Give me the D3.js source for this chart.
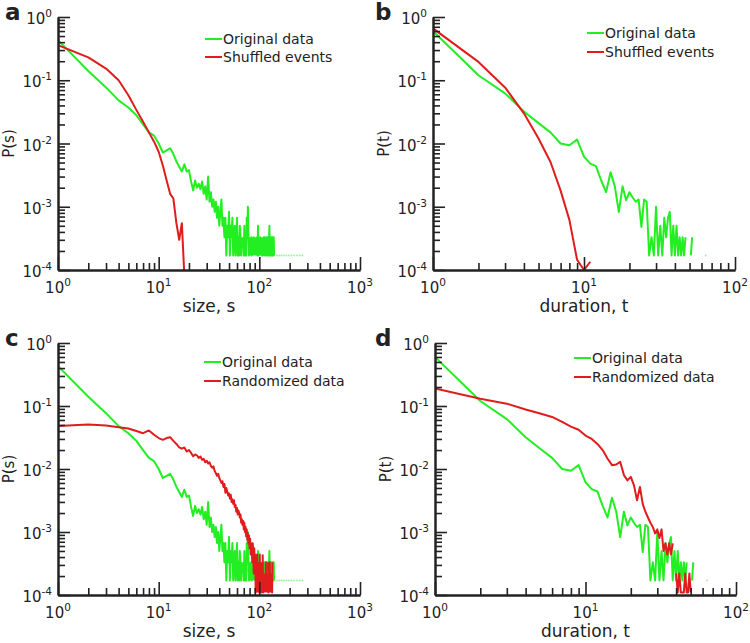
<!DOCTYPE html>
<html><head><meta charset="utf-8">
<script src="https://cdn.jsdelivr.net/npm/d3@7"></script>
<style>
body{margin:0;background:#fff}
text{font-family:"DejaVu Sans",sans-serif;fill:#222}
</style>
</head><body>
<svg id="chart" width="750" height="643"></svg>
<script>
// ---------- DATA ----------
const sizeOriginal = [
 [1,0.43],[2,0.14],[3,0.077],[4,0.048],[5,0.037],[6,0.028],[7,0.020],[8,0.0150],[9,0.0133],[10,0.0100],
 [11,0.0072],[12,0.0078],[13,0.0084],[14,0.0068],[15,0.0052],[16,0.0043],[17,0.0036],[18,0.0047],[19,0.0036],[20,0.0038],
 [21,0.0025],[22,0.0018],[23,0.0026],[24,0.0020],[25,0.0023],[26,0.0019],[27,0.0025],[28,0.0016],[29,0.0021],[30,0.0013],
 [31,0.0030],[32,0.0012],[33,0.0017],[34,0.0010],[35,0.0013],[36,8.3e-4],[37,1.2e-3],[38,6.7e-4],[39,1.0e-3],[40,5.0e-4],
 [41,8.3e-4],[42,1.3e-3],[43,5.0e-4],[44,6.7e-4],[45,3.3e-4],[46,6.7e-4],[47,1.7e-4],[48,5.0e-4],[49,3.3e-4],[50,8.3e-4],
 [51,1.7e-4],[52,5.0e-4],[53,3.3e-4],[54,6.7e-4],[55,1.7e-4],[56,3.3e-4],[57,5.0e-4],[58,1.7e-4],[59,3.3e-4],[60,6.7e-4],
 [61,1.7e-4],[62,3.3e-4],[63,1.7e-4],[64,5.0e-4],[65,3.3e-4],[66,1.7e-4],[67,3.3e-4],[68,0],[69,3.3e-4],[70,1.7e-4],
 [71,5.0e-4],[72,1.7e-4],[73,3.3e-4],[74,1.7e-4],[75,6.7e-4],[76,3.3e-4],[77,1.0e-3],[78,3.3e-4],[79,1.7e-4],[80,3.3e-4],
 [81,0],[82,1.7e-4],[83,3.3e-4],[84,1.7e-4],[85,3.3e-4],[86,0],[87,1.7e-4],[88,3.3e-4],[89,1.7e-4],[90,0],
 [91,3.3e-4],[92,1.7e-4],[93,0],[94,1.7e-4],[95,3.3e-4],[96,1.7e-4],[97,5.0e-4],[98,1.7e-4],[99,3.3e-4],[100,0],
 [101,1.7e-4],[102,3.3e-4],[103,1.7e-4],[104,0],[105,3.3e-4],[106,1.7e-4],[107,1.7e-4],[108,3.3e-4],[109,0],[110,1.7e-4],
 [111,3.3e-4],[112,1.7e-4],[113,3.3e-4],[114,1.7e-4],[115,0],[116,3.3e-4],[117,1.7e-4],[118,3.3e-4],[119,1.7e-4],[120,3.3e-4],
 [121,1.7e-4],[122,0],[123,3.3e-4],[124,1.7e-4],[125,3.3e-4],[126,5.0e-4],[127,1.7e-4],[128,3.3e-4],[129,1.7e-4],[130,3.3e-4],
 [131,1.7e-4],[132,1.7e-4],[133,3.3e-4],[134,1.7e-4],[135,1.7e-4],[136,3.3e-4],[137,1.7e-4],[138,1.7e-4],[139,3.3e-4],[140,1.7e-4],
 [141,0],[150,1.7e-4],[151,0],[158,1.7e-4],[159,0],[166,1.7e-4],[167,0],[175,1.7e-4],[176,0],[185,1.7e-4],[186,0],
 [196,1.7e-4],[197,0],[208,1.7e-4],[209,0],[221,1.7e-4],[222,0],[236,1.7e-4],[237,0],[252,1.7e-4],[253,0],[268,1.7e-4]
];
const sizeShuffled = [
 [1,0.36],[2,0.23],[3,0.153],[4,0.100],[5,0.058],[6,0.034],[7,0.022],[8,0.0150],[9,0.0107],[10,0.0074],
 [11,0.0045],[12,0.0026],[13,0.0016],[14,0.00135],[15,0.00055],[16,0.00030],[17,0.00055],[18,0.00008]
];
const sizeRandomized = [
 [1,0.048],[2,0.051],[3,0.049],[4,0.046],[5,0.044],[6,0.040],[7,0.037],[8,0.041],[9,0.035],[10,0.031],
 [11,0.029],[12,0.031],[13,0.032],[14,0.028],[15,0.025],[16,0.022],[17,0.021],[18,0.022],[19,0.019],[20,0.020],
 [21,0.018],[22,0.016],[23,0.017],[24,0.0165],[25,0.015],[26,0.0158],[27,0.014],[28,0.0145],[29,0.0128],[30,0.0135],
 [31,0.0122],[32,0.0128],[33,0.0112],[34,0.0105],[35,0.0110],[36,0.0093],[37,0.0086],[38,0.0078],[39,0.0084],[40,0.0072],
 [41,0.0066],[42,0.0060],[43,0.0064],[44,0.0052],[45,0.0058],[46,0.0042],[47,0.0050],[48,0.0044],[49,0.0038],[50,0.0041],
 [51,0.0034],[52,0.0039],[53,0.0030],[54,0.0033],[55,0.0028],[56,0.0032],[57,0.0025],[58,0.0027],[59,0.0021],[60,0.0024],
 [61,0.0019],[62,0.0022],[63,0.0020],[64,0.0017],[65,0.0019],[66,0.0014],[67,0.0016],[68,0.0013],[69,0.0015],[70,0.0011],
 [71,0.0014],[72,0.0010],[73,0.0012],[74,0.00085],[75,0.0011],[76,0.00075],[77,0.00095],[78,0.00065],[79,0.00088],[80,0.00055],
 [81,0.00078],[82,0.00044],[83,0.00066],[84,0.00055],[85,0.00033],[86,0.00066],[87,0.00044],[88,0.00022],[89,0.00055],[90,0.00033],
 [91,0.00044],[92,0.00011],[93,0.00033],[94,0.00022],[95,0.00044],[96,0.00011],[97,0],[98,0.00033],[99,0.00022],[100,0.00011],
 [101,0.00044],[102,0.00011],[103,0],[104,0.00022],[105,0.00011],[106,0.00033],[107,0],[108,0.00044],[109,0.00011],[110,0.00022],
 [111,0],[112,0.00011],[113,0.00022],[114,0],[115,0.00011],[116,0.00033],[117,0.00011],[118,0],[119,0.00022],[120,0.00011],
 [121,0],[122,0.00033],[123,0.00011],[124,0.00022],[125,0],[126,0.00011],[127,0.00033],[128,0.00011],[129,0],[130,0.00022],
 [131,0.00011],[132,0],[133,0.00022],[134,0.00011],[135,0.00033]
];
const durationOriginal = [
 [1,0.60],[2,0.12],[3,0.062],[4,0.032],[5,0.021],[6,0.015],[7,0.0100],[8,0.0094],[9,0.0115],[10,0.0062],
 [11,0.0048],[12,0.0044],[13,0.0026],[14,0.0017],[15,0.0035],[16,0.0021],[17,0.00083],[18,0.0021],[19,0.00127],[20,0.0017],
 [21,0.0014],[22,0.0012],[23,0.0013],[24,0.00048],[25,0.0013],[26,0.0012],[27,1.7e-4],[28,3.3e-4],[29,1.7e-4],[30,0.0010],
 [31,1.7e-4],[32,5.0e-4],[33,1.7e-4],[34,6.7e-4],[35,3.3e-4],[36,6.7e-4],[37,8.3e-4],[38,1.7e-4],[39,5.0e-4],[40,1.7e-4],
 [41,5.0e-4],[42,1.7e-4],[43,3.3e-4],[44,1.7e-4],[45,3.3e-4],[46,1.7e-4],[47,3.3e-4],[48,0],[51,1.7e-4],[52,3.3e-4],
 [53,0],[64,1.7e-4],[65,0]
];
const durationShuffled = [
 [1,0.66],[2,0.195],[3,0.077],[4,0.030],[5,0.012],[6,0.0051],[7,0.0018],[8,0.00062],[9,1.45e-4],[10,1.0e-4],[11,1.35e-4]
];
const durationRandomized = [
 [1,0.19],[2,0.13],[3,0.109],[4,0.088],[5,0.076],[6,0.067],[7,0.056],[8,0.047],[9,0.042],[10,0.034],
 [11,0.030],[12,0.025],[13,0.020],[14,0.0147],[15,0.0115],[16,0.0118],[17,0.0130],[18,0.0080],[19,0.0066],[20,0.0075],
 [21,0.0055],[22,0.0032],[23,0.0052],[24,0.0028],[25,0.0021],[26,0.0017],[27,0.0014],[28,0.0012],[29,0.00095],[30,0.0011],
 [31,0.00080],[32,0.00110],[33,0.00050],[34,0.00066],[35,0.00044],[36,0.00066],[37,0.00044],[38,0.00066],[39,0],[40,0.00022],
 [41,0.00011],[42,0.00022],[43,0.00011],[44,0.00011],[45,0.00011],[46,0.00022],[47,0.00011],[48,0.00011],[49,0.00022],[50,0.00011]
];
const yTickExps = [0,-1,-2,-3,-4];
const xTickExpsSize = [0,1,2,3];
const xTickExpsDuration = [0,1,2];
const legendLabelsShuffle = ["Original data","Shuffled events"];
const legendLabelsRandom = ["Original data","Randomized data"];

// ---------- LAYOUT ----------
const GREEN = "#22ee22", RED = "#e01c1c", INK = "#222";
const panels = [
 {id:"a", x0:58, x1:360, y0:17, y1:270, xExps:xTickExpsSize, xlab:"size, s", ylab:"P(s)",
  series:[sizeOriginal,sizeShuffled], labels:legendLabelsShuffle, leg:[205,39,57], letter:[5,20]},
 {id:"b", x0:433, x1:735, y0:17, y1:270, xExps:xTickExpsDuration, xlab:"duration, t", ylab:"P(t)",
  series:[durationOriginal,durationShuffled], labels:legendLabelsShuffle, leg:[587,33,52], letter:[375,20]},
 {id:"c", x0:58, x1:360, y0:343, y1:595, xExps:xTickExpsSize, xlab:"size, s", ylab:"P(s)",
  series:[sizeOriginal,sizeRandomized], labels:legendLabelsRandom, leg:[204,362,381], letter:[5,346]},
 {id:"d", x0:435, x1:736, y0:343, y1:595, xExps:xTickExpsDuration, xlab:"duration, t", ylab:"P(t)",
  series:[durationOriginal,durationRandomized], labels:legendLabelsRandom, leg:[574,358,377], letter:[375,346]}
];

const svg = d3.select("#chart");
const defs = svg.append("defs");

function minorTicks(exps){
  const t=[];
  for(let i=0;i<exps.length-1;i++) for(let k=2;k<=9;k++) t.push(k*Math.pow(10,exps[i]));
  return t;
}

panels.forEach(p=>{
  const xmin = Math.pow(10,d3.min(p.xExps)), xmax = Math.pow(10,d3.max(p.xExps));
  const x = d3.scaleLog().domain([xmin,xmax]).range([p.x0,p.x1]);
  const y = d3.scaleLog().domain([1e-4,1]).range([p.y1,p.y0]);
  const g = svg.append("g");

  defs.append("clipPath").attr("id","clip-"+p.id).append("rect")
    .attr("x",p.x0).attr("y",p.y0-3).attr("width",p.x1-p.x0+3).attr("height",p.y1-p.y0+3);

  const line = d3.line().defined(d=>d[1]>0).x(d=>x(d[0])).y(d=>y(d[1]));
  const colors=[GREEN,RED];
  p.series.forEach((s,i)=>{
    const sg = g.append("g").attr("clip-path","url(#clip-"+p.id+")");
    sg.append("path").datum(s).attr("d",line)
      .attr("fill","none").attr("stroke",colors[i]).attr("stroke-width",2).attr("stroke-linejoin","round");
    // isolated points (neighbours are zero) appear as faint dots
    const iso = s.filter((d,j)=>d[1]>0 && !(s[j-1]&&s[j-1][1]>0) && !(s[j+1]&&s[j+1][1]>0));
    sg.selectAll("circle.iso").data(iso).join("circle").attr("class","iso")
      .attr("cx",d=>x(d[0])).attr("cy",d=>y(d[1])).attr("r",1)
      .attr("fill",colors[i]).attr("opacity",0.45);
  });

  // axes
  const xMajor = p.xExps.map(e=>Math.pow(10,e));
  const yMajor = yTickExps.map(e=>Math.pow(10,e));
  const axX = g.append("g").attr("transform",`translate(0,${p.y1})`);
  axX.call(d3.axisBottom(x).tickValues(minorTicks(p.xExps)).tickSize(-7).tickSizeOuter(0).tickFormat(""));
  axX.append("g").call(d3.axisBottom(x).tickValues(xMajor).tickSize(-13).tickSizeOuter(0).tickFormat(""));
  const axY = g.append("g").attr("transform",`translate(${p.x0},0)`);
  axY.call(d3.axisLeft(y).tickValues(minorTicks(yTickExps.slice().reverse())).tickSize(-7).tickSizeOuter(0).tickFormat(""));
  axY.append("g").call(d3.axisLeft(y).tickValues(yMajor).tickSize(-12).tickSizeOuter(0).tickFormat(""));
  g.selectAll(".tick line").attr("stroke",INK).attr("stroke-width",1.6);
  g.selectAll(".domain").attr("stroke",INK).attr("stroke-width",2);

  // tick labels
  p.xExps.forEach(e=>{
    const t = g.append("text").attr("x",x(Math.pow(10,e))).attr("y",p.y1+23)
      .attr("text-anchor","middle").attr("font-size",15);
    t.append("tspan").text("10");
    t.append("tspan").attr("dy",-7).attr("font-size",10.5).text(String(e));
  });
  yTickExps.forEach(e=>{
    const t = g.append("text").attr("x",p.x0-6).attr("y",y(Math.pow(10,e))+7)
      .attr("text-anchor","end").attr("font-size",15);
    t.append("tspan").text("10");
    t.append("tspan").attr("dy",-7).attr("font-size",10.5).text(String(e));
  });

  // axis titles
  g.append("text").attr("x",(p.x0+p.x1)/2).attr("y",p.y1+42).attr("text-anchor","middle")
    .attr("font-size",17).text(p.xlab);
  g.append("text").attr("transform",`translate(${p.x0-44},${(p.y0+p.y1)/2}) rotate(-90)`)
    .attr("text-anchor","middle").attr("font-size",15).text(p.ylab);

  // panel letter
  g.append("text").attr("x",p.letter[0]).attr("y",p.letter[1]).attr("font-size",23)
    .attr("font-weight","bold").attr("fill","#000").text(p.id);

  // legend
  p.labels.forEach((lab,i)=>{
    const ly = p.leg[1+i];
    g.append("line").attr("x1",p.leg[0]).attr("x2",p.leg[0]+17).attr("y1",ly).attr("y2",ly)
      .attr("stroke",colors[i]).attr("stroke-width",2);
    g.append("text").attr("x",p.leg[0]+18).attr("y",ly+5).attr("font-size",14).text(lab);
  });
});
</script>
</body></html>
